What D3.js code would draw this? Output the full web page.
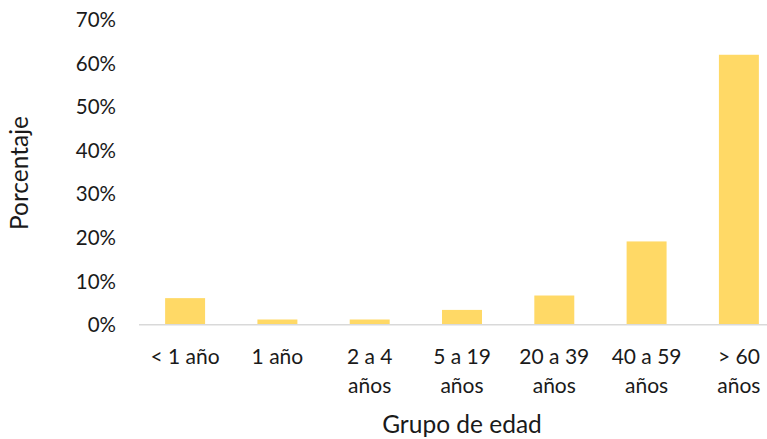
<!DOCTYPE html>
<html>
<head>
<meta charset="utf-8">
<script src="https://cdn.jsdelivr.net/npm/d3@7"></script>
<style>
  body { margin: 0; background: #fff; }
  text { font-family: Lato, "Open Sans", sans-serif; fill: #1a1a1a; }
</style>
</head>
<body>
<div class="chart"></div>
<script>
// age groups (each label split into lines)
var categories = ["< 1 año", "1 año", "2 a 4 años", "5 a 19 años", "20 a 39 años", "40 a 59 años", "> 60 años"];
var labelLines = [["< 1 año"], ["1 año"], ["2 a 4", "años"], ["5 a 19", "años"], ["20 a 39", "años"], ["40 a 59", "años"], ["> 60", "años"]];
var values = [6.0, 1.1, 1.1, 3.3, 6.6, 19.0, 61.8];
var yTicks = [0, 10, 20, 30, 40, 50, 60, 70];

var width = 767, height = 439;
var margin = {top: 19, left: 139, bottom: 114};

var svg = d3.select(".chart").append("svg")
    .attr("width", width)
    .attr("height", height);

// plot runs past the right edge, like the original
var x = d3.scaleBand()
    .domain(categories)
    .range([margin.left, 785])
    .paddingInner(0.567)
    .paddingOuter(0.283);

var y = d3.scaleLinear()
    .domain([0, 70])
    .range([height - margin.bottom - 0.7, margin.top]);

// y axis labels only
var yAxis = d3.axisLeft(y)
    .tickValues(yTicks)
    .tickSize(0)
    .tickPadding(0)
    .tickFormat(function(d){ return d + "%"; });
var gy = svg.append("g")
    .attr("transform", "translate(116,0)")
    .call(yAxis);
gy.select(".domain").remove();
gy.selectAll(".tick text")
    .style("font-size", "20.5px")
    .style("font-family", "Lato, sans-serif")
    .attr("fill", "#1a1a1a")
    .attr("dy", "0.36em");

// bars
svg.selectAll(".bar")
    .data(values)
    .enter().append("rect")
    .attr("class", "bar")
    .attr("x", function(d, i){ return x(categories[i]); })
    .attr("width", x.bandwidth())
    .attr("y", function(d){ return y(d); })
    .attr("height", function(d){ return y(0) - y(d); })
    .attr("fill", "#FFD966");

// baseline
svg.append("line")
    .attr("x1", margin.left).attr("x2", width)
    .attr("y1", y(0) + 0.5).attr("y2", y(0) + 0.5)
    .attr("stroke", "#d9d9d9")
    .attr("stroke-width", 1.5);

// category labels
var lab = svg.selectAll(".xlab")
    .data(categories)
    .enter().append("text")
    .attr("class", "xlab")
    .attr("text-anchor", "middle")
    .style("font-size", "21px");
lab.each(function(d, i){
    var t = d3.select(this);
    labelLines[i].forEach(function(s, j){
        t.append("tspan")
            .attr("x", x(d) + x.bandwidth() / 2)
            .attr("y", 364 + j * 29)
            .text(s);
    });
});

// axis titles
svg.append("text")
    .attr("x", (margin.left + 785) / 2)
    .attr("y", 433)
    .attr("text-anchor", "middle")
    .style("font-size", "24.5px")
    .text("Grupo de edad");

svg.append("text")
    .attr("transform", "translate(28,173) rotate(-90)")
    .attr("text-anchor", "middle")
    .style("font-size", "24.5px")
    .text("Porcentaje");
</script>
</body>
</html>
